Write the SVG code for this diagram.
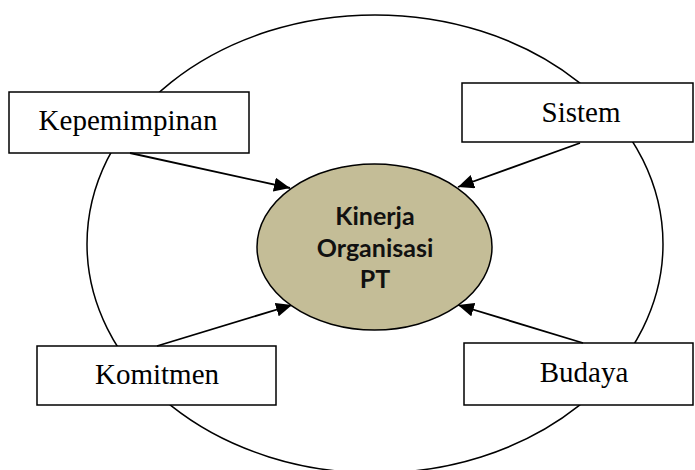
<svg xmlns="http://www.w3.org/2000/svg" width="695" height="470" viewBox="0 0 695 470">
<style>
.box{fill:#fff;stroke:#000;stroke-width:1.5}
.lbl{font-family:"Liberation Serif","Times New Roman",serif;font-size:29px;fill:#000;text-anchor:middle}
.ctr{font-family:Lato,"Liberation Sans",sans-serif;font-weight:bold;font-size:25px;fill:#111;text-anchor:middle}
.conn line{stroke:#000;stroke-width:1.8;marker-end:url(#ah)}
</style>
<defs>
<marker id="ah" markerUnits="userSpaceOnUse" markerWidth="18" markerHeight="14" refX="16" refY="7" orient="auto">
<path d="M0,0 L16,7 L0,14 Z" fill="#000"/>
</marker>
</defs>
<rect width="695" height="470" fill="#fff"/>
<g id="outer"><ellipse cx="375" cy="244" rx="288" ry="229" fill="none" stroke="#000" stroke-width="1.5"/></g>
<g id="kepemimpinan"><rect class="box" x="9" y="92" width="240" height="61"/><text class="lbl" x="128" y="130">Kepemimpinan</text></g>
<g id="sistem"><rect class="box" x="462" y="83" width="231" height="59"/><text class="lbl" x="581" y="122">Sistem</text></g>
<g id="komitmen"><rect class="box" x="37" y="346" width="239" height="59"/><text class="lbl" x="157" y="384">Komitmen</text></g>
<g id="budaya"><rect class="box" x="464" y="343" width="229" height="62"/><text class="lbl" x="584" y="382">Budaya</text></g>
<g class="conn" id="connectors">
<line x1="130" y1="153" x2="290" y2="188"/>
<line x1="580" y1="143" x2="458" y2="187"/>
<line x1="157" y1="346" x2="292" y2="305"/>
<line x1="583" y1="343" x2="458" y2="305"/>
</g>
<g id="kinerja"><ellipse cx="374.5" cy="247" rx="117.5" ry="83" fill="#C4BD97" stroke="#000" stroke-width="1.5"/>
<text class="ctr" x="375" y="225">Kinerja</text>
<text class="ctr" x="375" y="257">Organisasi</text>
<text class="ctr" x="375" y="288">PT</text></g>
</svg>
